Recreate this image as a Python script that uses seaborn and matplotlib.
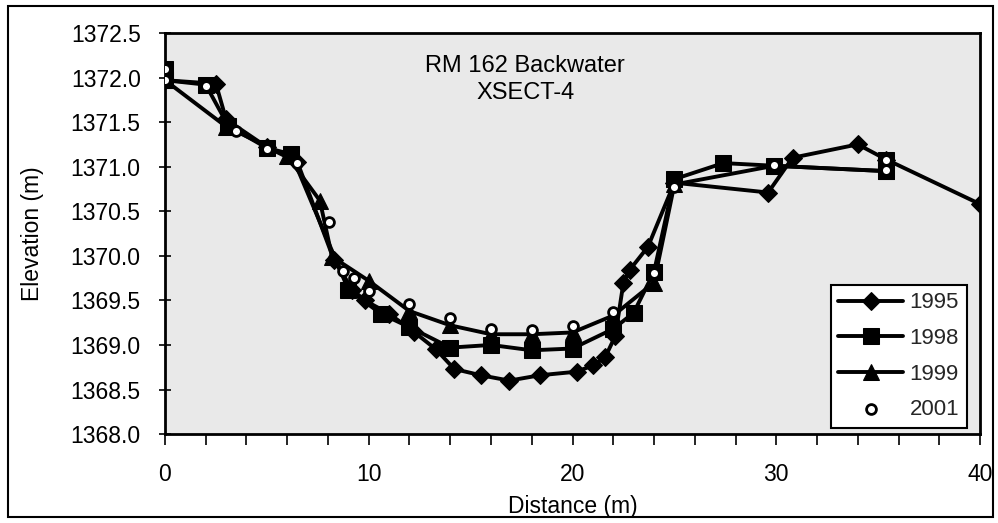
import matplotlib
matplotlib.use("Agg")
import matplotlib.pyplot as plt
from matplotlib.patches import Rectangle
from matplotlib.ticker import MultipleLocator, FormatStrFormatter
import seaborn as sns

# Cross-section survey XSECT-4, RM 162 backwater: distance (m) vs elevation (m)
distance_1995 = [0.0, 2.5, 3.0, 5.0, 6.5, 8.3, 9.2, 9.8, 11.0, 12.2, 13.3, 14.2,
                 15.5, 16.9, 18.4, 20.2, 21.0, 21.6, 22.1, 22.5, 22.8, 23.7, 25.0,
                 29.6, 30.8, 34.0, 35.4, 40.0]
elevation_1995 = [1371.97, 1371.93, 1371.53, 1371.22, 1371.05, 1369.95, 1369.62,
                  1369.50, 1369.35, 1369.15, 1368.95, 1368.73, 1368.66, 1368.60, 1368.66,
                  1368.70, 1368.77, 1368.86, 1369.10, 1369.70, 1369.84, 1370.10, 1370.82,
                  1370.71, 1371.10, 1371.25, 1371.08, 1370.58]

distance_1998 = [0.0, 0.0, 2.0, 3.1, 5.0, 6.2, 9.0, 10.6, 12.0, 14.0, 16.0, 18.0, 20.0,
                 22.0, 23.0, 24.0, 25.0, 27.4, 29.9, 35.4, 35.4]
elevation_1998 = [1372.10, 1371.97, 1371.92, 1371.46, 1371.21, 1371.14, 1369.62, 1369.35,
                  1369.20, 1368.97, 1369.00, 1368.94, 1368.96, 1369.18, 1369.36, 1369.82,
                  1370.86, 1371.04, 1371.01, 1370.95, 1371.08]

distance_1999 = [0.0, 3.0, 6.0, 7.6, 8.2, 10.0, 12.0, 14.0, 16.0, 18.0, 20.0, 22.0, 24.0,
                 25.0, 29.9, 35.4]
elevation_1999 = [1371.97, 1371.45, 1371.12, 1370.62, 1369.99, 1369.72, 1369.38, 1369.22,
                  1369.12, 1369.12, 1369.14, 1369.33, 1369.70, 1370.80, 1371.01, 1370.95]

distance_2001 = [0.0, 0.0, 2.0, 3.5, 5.0, 6.5, 8.05, 8.75, 9.3, 10.0, 12.0, 14.0, 16.0,
                 18.0, 20.0, 22.0, 24.0, 25.0, 29.9, 35.4, 35.4]
elevation_2001 = [1372.10, 1371.97, 1371.90, 1371.40, 1371.20, 1371.04, 1370.38, 1369.83,
                  1369.75, 1369.60, 1369.46, 1369.30, 1369.18, 1369.17, 1369.21, 1369.37,
                  1369.81, 1370.77, 1371.02, 1371.08, 1370.96]

sns.set_theme(style="white")
plt.rcParams["font.family"] = ["Liberation Sans", "DejaVu Sans"]

fig = plt.figure(figsize=(9.98, 5.23), dpi=100)
fig.patch.set_facecolor("white")
ax = fig.add_axes([0.1653, 0.170, 0.8167, 0.767])
ax.set_facecolor("#e9e9e9")

line_kw = dict(sort=False, estimator=None, color="black", linewidth=2.8, ax=ax)
sns.lineplot(x=distance_1995, y=elevation_1995, marker="D", markersize=9,
             markeredgecolor="black", markerfacecolor="black", label="1995", **line_kw)
sns.lineplot(x=distance_1998, y=elevation_1998, marker="s", markersize=12,
             markeredgecolor="black", markerfacecolor="black", label="1998", **line_kw)
sns.lineplot(x=distance_1999, y=elevation_1999, marker="^", markersize=11,
             markeredgecolor="black", markerfacecolor="black", label="1999", **line_kw)
sns.scatterplot(x=distance_2001, y=elevation_2001, marker="o", s=50, color="white",
                edgecolor="black", linewidth=2, label="2001", zorder=5, ax=ax)

ax.set_xlim(0, 40)
ax.set_ylim(1368.0, 1372.5)
ax.xaxis.set_major_locator(MultipleLocator(10))
ax.xaxis.set_minor_locator(MultipleLocator(2))
ax.yaxis.set_major_locator(MultipleLocator(0.5))
ax.yaxis.set_major_formatter(FormatStrFormatter("%.1f"))

ax.tick_params(axis="y", which="major", left=True, direction="inout", length=9,
               width=1.2, color="black", pad=13, labelsize=16.5, labelcolor="black")
ax.tick_params(axis="x", which="both", bottom=True, direction="out", length=8,
               width=1.2, color="black", pad=13, labelsize=16.5, labelcolor="black")

for spine in ax.spines.values():
    spine.set_color("black")
    spine.set_linewidth(2)

ax.set_xlabel("Distance (m)", fontsize=16.5, color="black", labelpad=6)
ax.set_ylabel("Elevation (m)", fontsize=16.5, color="black", labelpad=19)

ax.text(0.442, 0.945, "RM 162 Backwater\nXSECT-4", transform=ax.transAxes,
        ha="center", va="top", fontsize=17, color="black", linespacing=1.3)

handles, labels = ax.get_legend_handles_labels()
leg = ax.legend(handles, labels, loc="lower right", bbox_to_anchor=(0.984, 0.015),
                borderaxespad=0, fontsize=16, frameon=True, fancybox=False,
                edgecolor="black", facecolor="white", framealpha=1,
                handlelength=2.9, handletextpad=0.3, labelspacing=0.66,
                borderpad=0.35)
leg.get_frame().set_linewidth(1.5)

# outer frame around the whole figure
fig.add_artist(Rectangle((0.008, 0.0115), 0.987, 0.977, transform=fig.transFigure,
                         fill=False, edgecolor="black", linewidth=1.5))

fig.savefig("out.png", dpi=100)
